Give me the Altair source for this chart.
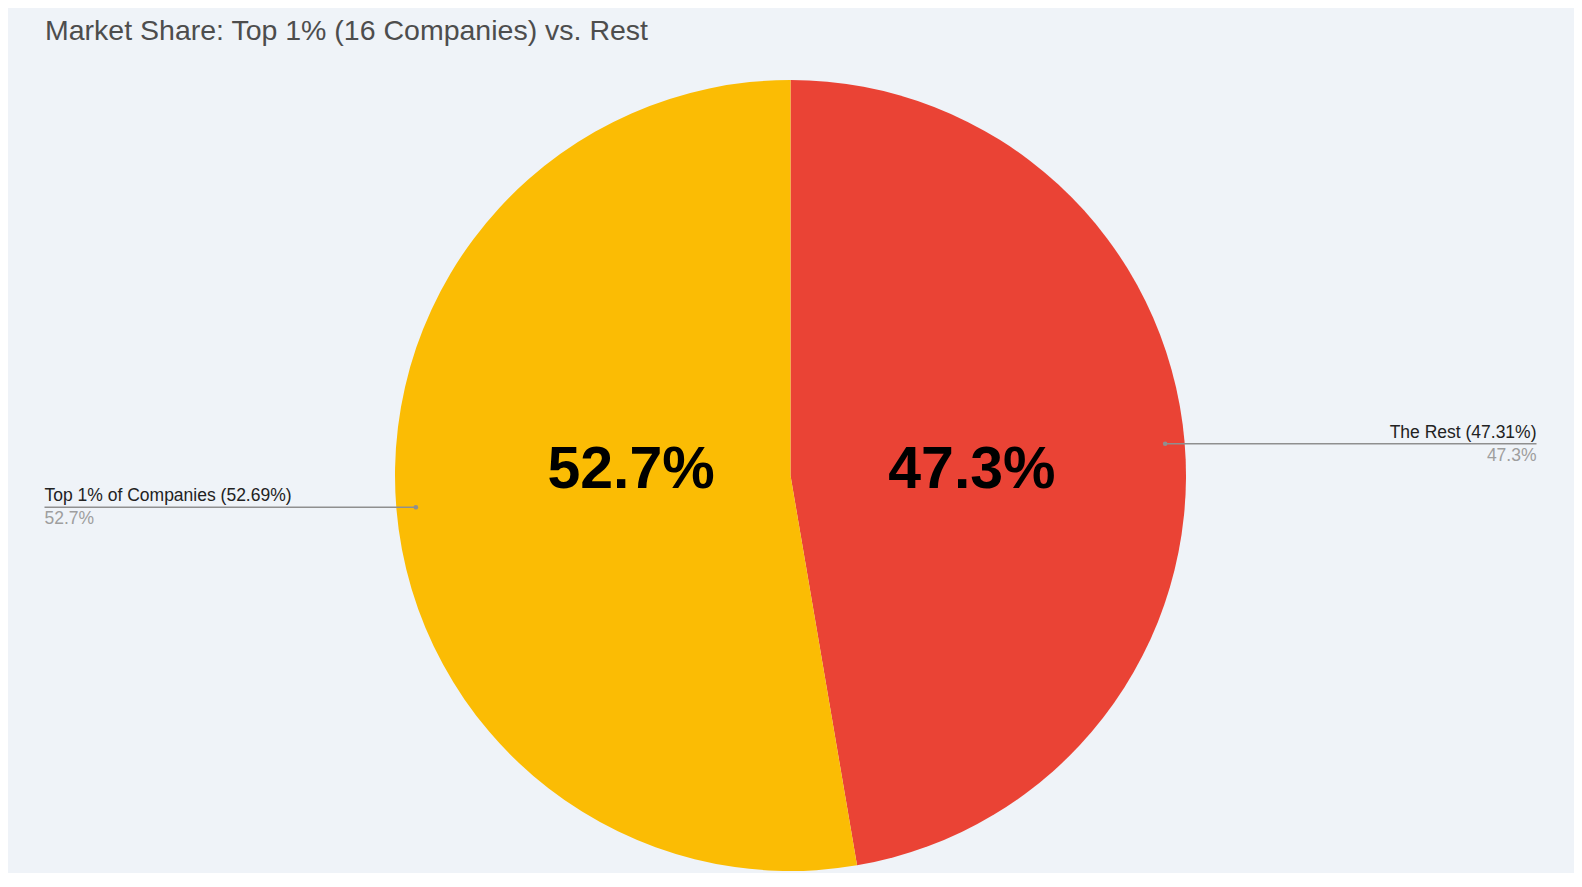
import altair as alt
import pandas as pd

# ---- data ----
categories = ["The Rest", "Top 1% of Companies"]
shares = [47.31, 52.69]
slice_order = [0, 1]
colors = ["#EA4335", "#FBBC04"]
title_text = "Market Share: Top 1% (16 Companies) vs. Rest"

df = pd.DataFrame({"category": categories, "share": shares, "order": slice_order})

# ---- layout (pixels) ----
W, H = 1565, 795
R = 395.5          # pie radius
R_DOT = 376        # leader dot radius
EDGE = 746         # leader line end (from centre)
R_IN = 171         # inside label distance

xs = alt.Scale(domain=[-W / 2, W / 2], nice=False, zero=False)
ys = alt.Scale(domain=[-H / 2, H / 2], nice=False, zero=False)

arc = alt.Chart(df).mark_arc(outerRadius=R).encode(
    theta=alt.Theta("share:Q", stack=True),
    color=alt.Color("category:N", scale=alt.Scale(domain=categories, range=colors), legend=None),
    order=alt.Order("order:Q"),
)

base = (
    alt.Chart(df)
    .transform_window(cum="sum(share)", sort=[alt.SortField("order")], frame=[None, 0])
    .transform_joinaggregate(total="sum(share)")
    .transform_calculate(
        mid="(datum.cum - datum.share / 2) / datum.total * 2 * PI",
        dot_x=f"{R_DOT} * sin(datum.mid)",
        dot_y=f"{R_DOT} * cos(datum.mid)",
        edge_x=f"(sin(datum.mid) >= 0 ? 1 : -1) * {EDGE}",
        in_x=f"{R_IN} * sin(datum.mid)",
        in_y="0",
        name_label="datum.category + ' (' + format(datum.share, '.2f') + '%)'",
        value_label="format(datum.share, '.1f') + '%'",
    )
)

X = lambda f: alt.X(f"{f}:Q", scale=xs, axis=None)
Y = lambda f: alt.Y(f"{f}:Q", scale=ys, axis=None)

rule = base.mark_rule(color="#8f8f8f", strokeWidth=1.4).encode(
    x=X("dot_x"), x2="edge_x:Q", y=Y("dot_y")
)
dots = base.mark_circle(color="#8f8f8f", size=22, opacity=1).encode(x=X("dot_x"), y=Y("dot_y"))

name_font = dict(font="Liberation Sans", fontSize=17.5, baseline="alphabetic")

names_r = base.transform_filter("datum.edge_x > 0").mark_text(
    align="right", dy=-6, color="#222222", **name_font
).encode(x=X("edge_x"), y=Y("dot_y"), text="name_label:N")
names_l = base.transform_filter("datum.edge_x < 0").mark_text(
    align="left", dy=-6, color="#222222", **name_font
).encode(x=X("edge_x"), y=Y("dot_y"), text="name_label:N")
vals_r = base.transform_filter("datum.edge_x > 0").mark_text(
    align="right", dy=17, color="#9e9e9e", **name_font
).encode(x=X("edge_x"), y=Y("dot_y"), text="value_label:N")
vals_l = base.transform_filter("datum.edge_x < 0").mark_text(
    align="left", dy=17, color="#9e9e9e", **name_font
).encode(x=X("edge_x"), y=Y("dot_y"), text="value_label:N")

inside = base.mark_text(
    font="Liberation Sans", fontSize=59, fontWeight="bold", color="#000000",
    align="center", baseline="alphabetic", dx=11, dy=12,
).encode(x=X("in_x"), y=Y("in_y"), text="value_label:N")

chart = (
    alt.layer(arc, rule, dots, names_r, names_l, vals_r, vals_l, inside)
    .properties(
        width=W,
        height=H,
        padding={"left": 0, "right": 1, "top": 70, "bottom": 0},
        autosize=alt.AutoSizeParams(type="none"),
        title=alt.TitleParams(
            text=title_text,
            anchor="start",
            frame="group",
            font="Liberation Sans",
            fontSize=28.5,
            fontWeight="normal",
            color="#4d4d4d",
            baseline="alphabetic",
            dx=37,
            offset=10,
        ),
    )
    .configure(background="#eff3f8")
    .configure_view(stroke=None)
)

chart.save("out.html", embed_options={"renderer": "svg", "actions": False})
